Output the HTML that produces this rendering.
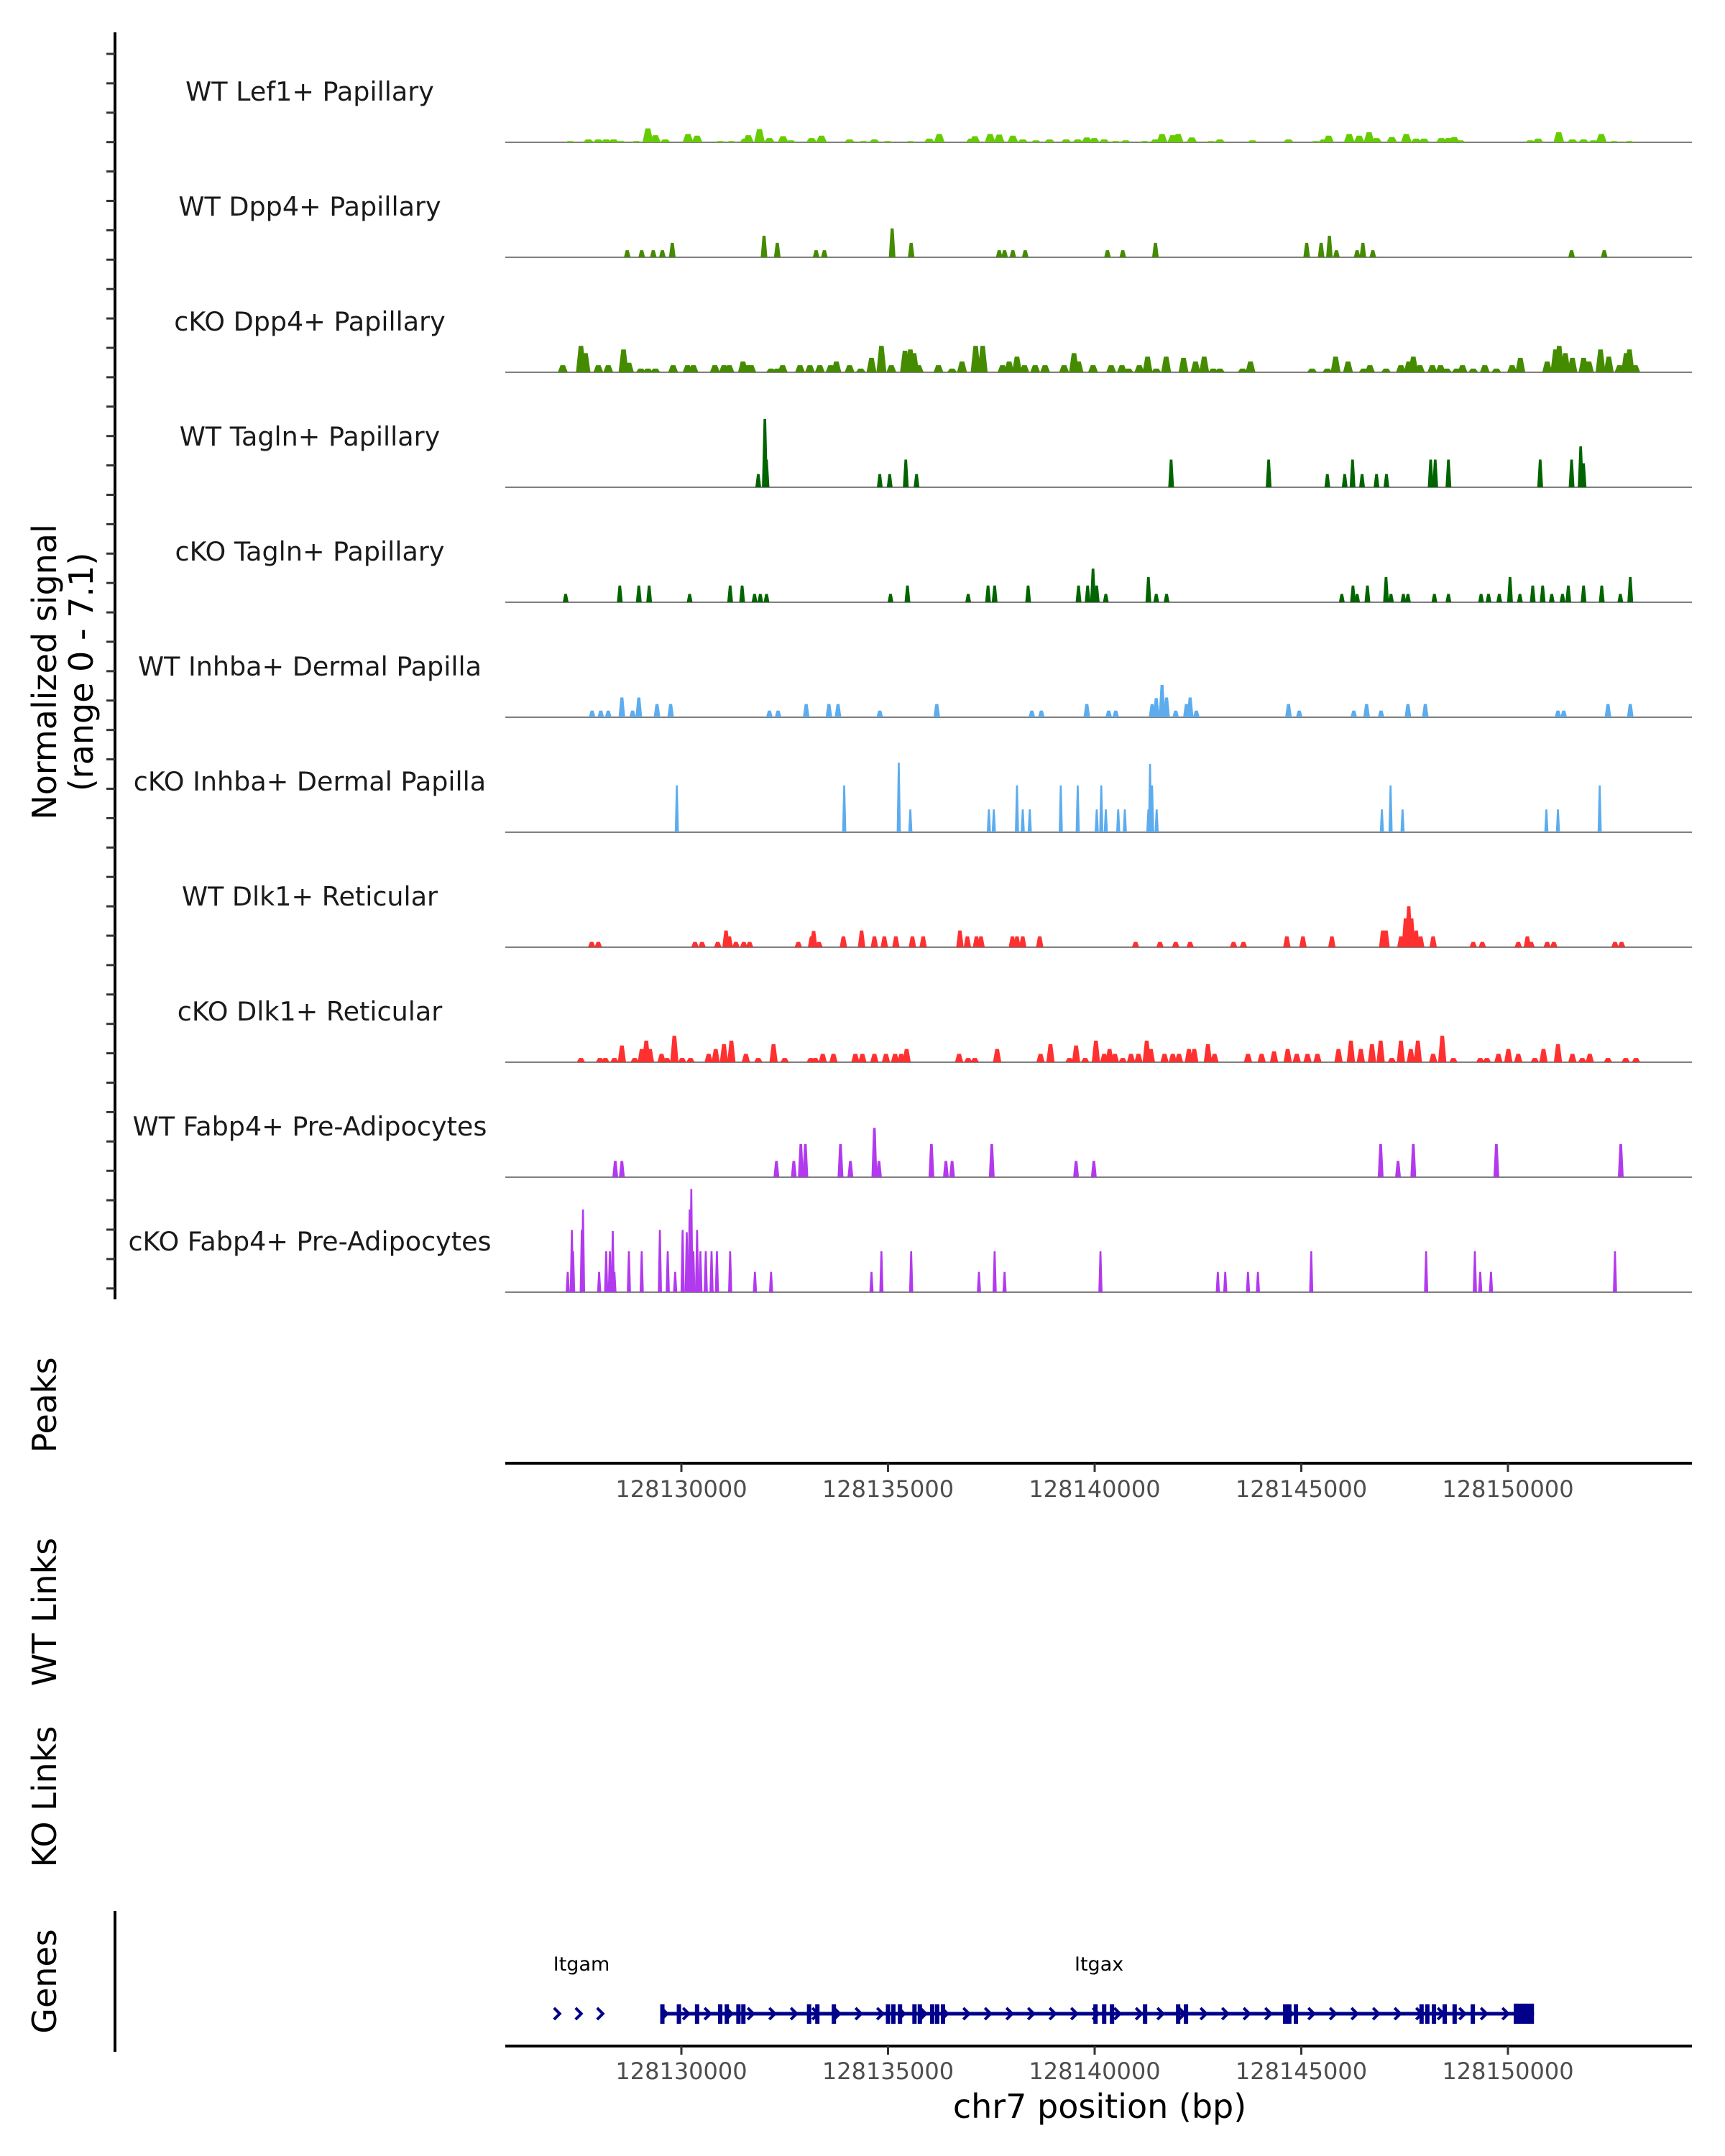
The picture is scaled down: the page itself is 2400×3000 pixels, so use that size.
<!DOCTYPE html>
<html><head><meta charset="utf-8"><style>
html,body{margin:0;padding:0;background:#fff;}
svg{display:block;font-family:"DejaVu Sans","Liberation Sans",sans-serif;}
</style></head><body>
<svg id="chart" width="2400" height="3000" viewBox="0 0 2400 3000" xmlns="http://www.w3.org/2000/svg">
<rect width="2400" height="3000" fill="#fff"/>
<g id="left">
<line x1="160" y1="45" x2="160" y2="1808" stroke="#000" stroke-width="4"/>
<line x1="160" y1="2659" x2="160" y2="2855" stroke="#000" stroke-width="4"/>
<text transform="translate(78,935) rotate(-90)" text-anchor="middle" font-size="46" fill="#000">Normalized signal</text>
<text transform="translate(129,935) rotate(-90)" text-anchor="middle" font-size="46" fill="#000">(range 0 - 7.1)</text>
<text transform="translate(78,1955) rotate(-90)" text-anchor="middle" font-size="46" fill="#000">Peaks</text>
<text transform="translate(78,2243) rotate(-90)" text-anchor="middle" font-size="46" fill="#000">WT Links</text>
<text transform="translate(78,2500) rotate(-90)" text-anchor="middle" font-size="46" fill="#000">KO Links</text>
<text transform="translate(78,2757) rotate(-90)" text-anchor="middle" font-size="46" fill="#000">Genes</text>
</g>
<g id="tracks"></g>
<g id="axes"></g>
<g id="genes"></g>
</svg>
<script>
// Genomic positions in kb offset from 128000 kb; signal in normalized units
const trackNames = ["WT Lef1+ Papillary","WT Dpp4+ Papillary","cKO Dpp4+ Papillary","WT Tagln+ Papillary","cKO Tagln+ Papillary","WT Inhba+ Dermal Papilla","cKO Inhba+ Dermal Papilla","WT Dlk1+ Reticular","cKO Dlk1+ Reticular","WT Fabp4+ Pre-Adipocytes","cKO Fabp4+ Pre-Adipocytes"];
const trackColors = ["#66cc00","#458b00","#458b00","#006400","#006400","#5cacee","#5cacee","#ff3030","#ff3030","#b23aee","#b23aee"];
const xTicks = [128130000,128135000,128140000,128145000,128150000];
const wtLef1 = [[127.31,0.08],[127.75,0.19],[127.99,0.19],[128.18,0.19],[128.36,0.19],[128.54,0.08],[128.91,0.08],[129.19,0.92],[129.37,0.47],[129.61,0.19],[130.16,0.55],[130.38,0.44],[130.94,0.08],[131.21,0.08],[131.54,0.24],[131.62,0.47],[131.89,0.87],[132.13,0.28],[132.46,0.4],[132.65,0.13],[133.15,0.28],[133.39,0.44],[134.07,0.19],[134.40,0.08],[134.67,0.19],[134.99,0.08],[135.54,0.08],[136.0,0.24],[136.24,0.55],[137.01,0.24],[137.10,0.4],[137.47,0.55],[137.69,0.51],[138.02,0.44],[138.26,0.19],[138.58,0.13],[138.91,0.19],[139.31,0.19],[139.59,0.19],[139.81,0.32],[139.99,0.28],[140.23,0.19],[140.51,0.08],[140.75,0.13],[141.21,0.08],[141.47,0.19],[141.63,0.55],[141.89,0.47],[142.02,0.55],[142.35,0.32],[142.81,0.08],[143.03,0.19],[143.82,0.13],[144.69,0.19],[145.35,0.08],[145.54,0.19],[145.66,0.44],[146.16,0.55],[146.40,0.44],[146.64,0.66],[146.82,0.28],[147.19,0.35],[147.54,0.55],[147.78,0.24],[147.97,0.24],[148.39,0.28],[148.56,0.28],[148.70,0.35],[148.85,0.13],[150.54,0.13],[150.73,0.24],[151.23,0.66],[151.56,0.19],[151.83,0.19],[152.07,0.13],[152.26,0.55],[152.57,0.08],[152.94,0.08]];
const wtDpp4 = [[128.69,0.47],[129.04,0.47],[129.32,0.47],[129.54,0.47],[129.78,0.95],[132.0,1.42],[132.32,0.95],[133.26,0.47],[133.46,0.47],[135.1,1.9],[135.56,0.95],[137.69,0.47],[137.82,0.47],[138.02,0.47],[138.32,0.47],[140.31,0.47],[140.68,0.47],[141.47,0.95],[145.13,0.95],[145.48,0.95],[145.68,1.42],[145.85,0.47],[146.35,0.47],[146.49,0.95],[146.73,0.47],[151.54,0.47],[152.33,0.47]];
const koDpp4 = [[127.13,0.47],[127.57,1.74],[127.68,1.26],[127.99,0.47],[128.23,0.47],[128.6,1.5],[128.73,0.63],[129.02,0.24],[129.19,0.24],[129.37,0.24],[129.8,0.47],[130.15,0.47],[130.29,0.47],[130.81,0.47],[131.03,0.47],[131.16,0.47],[131.49,0.71],[131.62,0.47],[131.69,0.47],[132.17,0.24],[132.32,0.24],[132.45,0.47],[132.87,0.47],[133.11,0.47],[133.35,0.47],[133.61,0.47],[133.75,0.71],[134.07,0.47],[134.34,0.24],[134.6,0.95],[134.84,1.74],[135.08,0.47],[135.41,1.42],[135.54,1.5],[135.63,1.26],[135.74,0.47],[136.22,0.47],[136.55,0.24],[136.79,0.71],[137.12,1.74],[137.29,1.74],[137.77,0.47],[137.93,0.71],[138.12,1.03],[138.3,0.47],[138.56,0.47],[138.8,0.47],[139.26,0.47],[139.5,1.26],[139.61,0.71],[139.96,0.47],[140.4,0.47],[140.66,0.47],[140.82,0.24],[141.08,0.47],[141.28,1.03],[141.49,0.24],[141.73,1.03],[142.15,0.95],[142.44,0.71],[142.65,1.03],[142.87,0.24],[143.03,0.24],[143.58,0.24],[143.77,0.71],[145.26,0.24],[145.63,0.24],[145.83,1.03],[146.13,0.71],[146.51,0.24],[146.66,0.47],[147.05,0.24],[147.41,0.47],[147.6,0.71],[147.71,1.03],[147.87,0.47],[148.17,0.47],[148.37,0.47],[148.52,0.24],[148.76,0.24],[148.9,0.47],[149.16,0.24],[149.44,0.47],[149.72,0.24],[150.1,0.47],[150.3,0.95],[150.95,0.71],[151.15,1.5],[151.24,1.74],[151.39,1.26],[151.56,0.95],[151.83,0.95],[151.96,0.71],[152.24,1.5],[152.44,1.03],[152.7,0.47],[152.86,1.26],[152.94,1.5],[153.08,0.47]];
const wtTagln = [[131.86,0.87],[132.02,4.5],[132.06,1.82],[134.8,0.87],[135.04,0.87],[135.43,1.82],[135.69,0.87],[141.85,1.82],[144.21,1.82],[145.63,0.87],[146.05,0.87],[146.24,1.82],[146.47,0.87],[146.82,0.87],[147.06,0.87],[148.13,1.82],[148.24,1.82],[148.56,1.82],[150.78,1.82],[151.54,1.82],[151.76,2.69],[151.83,1.58]];
const koTagln = [[127.2,0.55],[128.51,1.1],[128.97,1.1],[129.22,1.1],[130.2,0.55],[131.18,1.1],[131.47,1.1],[131.77,0.55],[131.91,0.55],[132.06,0.55],[135.06,0.55],[135.47,1.1],[136.94,0.55],[137.42,1.1],[137.58,1.1],[138.39,1.1],[139.61,1.1],[139.83,1.1],[139.96,2.21],[140.05,1.1],[140.27,0.55],[141.3,1.66],[141.49,0.55],[141.74,0.55],[145.98,0.55],[146.25,1.1],[146.35,0.55],[146.6,1.1],[147.05,1.66],[147.17,0.55],[147.47,0.55],[147.58,0.55],[148.22,0.55],[148.56,0.55],[149.35,0.55],[149.53,0.55],[149.79,0.55],[150.05,1.66],[150.29,0.55],[150.6,1.1],[150.84,1.1],[151.06,0.55],[151.32,0.55],[151.46,1.1],[151.83,1.1],[152.27,1.1],[152.72,0.55],[152.96,1.66]];
const wtInhba = [[127.84,0.44],[128.05,0.44],[128.23,0.44],[128.56,1.3],[128.82,0.44],[128.97,1.3],[129.41,0.87],[129.74,0.87],[132.13,0.44],[132.34,0.44],[133.02,0.87],[133.57,0.87],[133.79,0.87],[134.8,0.44],[136.18,0.87],[138.48,0.44],[138.71,0.44],[139.81,0.87],[140.34,0.44],[140.51,0.44],[141.39,0.87],[141.49,1.26],[141.63,2.13],[141.74,1.3],[141.96,0.44],[142.22,0.87],[142.31,1.3],[142.46,0.44],[144.69,0.87],[144.95,0.44],[146.27,0.44],[146.58,0.87],[146.93,0.44],[147.58,0.87],[148.0,0.87],[151.21,0.44],[151.35,0.44],[152.42,0.87],[152.96,0.87]];
const koInhba = [[129.89,3.08],[133.94,3.08],[135.26,4.58],[135.54,1.5],[137.44,1.5],[137.56,1.5],[138.12,3.08],[138.26,1.5],[138.43,1.5],[139.18,3.08],[139.59,3.08],[140.05,1.5],[140.16,3.08],[140.27,1.5],[140.57,1.5],[140.73,1.5],[141.3,1.5],[141.34,4.5],[141.39,3.08],[141.5,1.5],[146.95,1.5],[147.16,3.08],[147.45,1.5],[150.93,1.5],[151.21,1.5],[152.22,3.08]];
const wtDlk1 = [[127.83,0.35],[127.99,0.35],[130.33,0.35],[130.5,0.35],[130.88,0.35],[131.08,1.1],[131.16,0.71],[131.32,0.35],[131.51,0.35],[131.65,0.35],[132.83,0.35],[133.15,0.71],[133.2,1.07],[133.33,0.35],[133.92,0.71],[134.36,1.1],[134.67,0.71],[134.91,0.71],[135.19,0.71],[135.59,0.71],[135.85,0.71],[136.74,1.1],[136.92,0.71],[137.14,0.71],[137.25,0.71],[138.01,0.71],[138.12,0.71],[138.26,0.71],[138.67,0.71],[140.99,0.35],[141.58,0.35],[141.96,0.35],[142.31,0.35],[143.36,0.35],[143.6,0.35],[144.65,0.71],[145.04,0.71],[145.74,0.71],[146.97,1.1],[147.05,1.1],[147.41,0.71],[147.52,1.9],[147.6,2.69],[147.67,1.9],[147.78,1.1],[147.89,0.71],[148.19,0.71],[149.16,0.35],[149.38,0.35],[150.25,0.35],[150.47,0.71],[150.56,0.35],[150.95,0.35],[151.11,0.35],[152.59,0.35],[152.75,0.35]];
const koDlk1 = [[127.57,0.28],[128.03,0.28],[128.16,0.28],[128.38,0.28],[128.56,1.1],[128.87,0.28],[129.04,0.87],[129.15,1.42],[129.24,0.87],[129.52,0.55],[129.65,0.28],[129.83,1.74],[130.02,0.28],[130.22,0.28],[130.66,0.55],[130.83,0.87],[131.03,1.19],[131.21,1.42],[131.56,0.55],[131.86,0.28],[132.23,1.19],[132.5,0.28],[133.13,0.28],[133.24,0.28],[133.42,0.55],[133.68,0.55],[134.21,0.55],[134.38,0.55],[134.67,0.55],[134.95,0.55],[135.17,0.55],[135.32,0.55],[135.45,0.87],[136.72,0.55],[136.94,0.28],[137.1,0.28],[137.64,0.87],[138.69,0.55],[138.93,1.19],[139.39,0.28],[139.55,1.1],[139.77,0.28],[140.03,1.42],[140.23,0.55],[140.36,0.87],[140.49,0.55],[140.68,0.28],[140.88,0.55],[141.06,0.55],[141.26,1.42],[141.36,0.87],[141.69,0.55],[141.89,0.55],[142.04,0.55],[142.28,0.87],[142.41,0.87],[142.74,1.19],[142.9,0.55],[143.71,0.55],[144.04,0.55],[144.34,0.71],[144.67,0.87],[144.89,0.55],[145.15,0.55],[145.39,0.55],[145.9,0.87],[146.2,1.42],[146.44,0.87],[146.71,1.19],[146.92,1.42],[147.19,0.28],[147.41,1.42],[147.65,0.87],[147.82,1.42],[148.19,0.55],[148.41,1.74],[148.68,0.28],[149.33,0.28],[149.49,0.28],[149.77,0.55],[150.01,0.87],[150.25,0.55],[150.65,0.28],[150.86,0.87],[151.21,1.19],[151.56,0.55],[151.8,0.28],[151.98,0.55],[152.42,0.28],[152.85,0.28],[153.1,0.28]];
const wtFabp4 = [[128.4,1.07],[128.56,1.07],[132.3,1.07],[132.72,1.07],[132.89,2.18],[133.0,2.18],[133.85,2.18],[134.09,1.07],[134.67,3.24],[134.78,1.07],[136.05,2.18],[136.4,1.07],[136.55,1.07],[137.51,2.18],[139.55,1.07],[139.98,1.07],[146.92,2.18],[147.34,1.07],[147.71,2.18],[149.72,2.18],[152.73,2.18]];
const koFabp4 = [[127.25,1.34],[127.35,4.1],[127.38,2.69],[127.59,4.1],[127.62,5.45],[128.01,1.34],[128.18,2.69],[128.27,2.69],[128.34,4.03],[128.38,1.34],[128.73,2.69],[129.04,2.69],[129.48,4.1],[129.67,2.69],[129.85,1.34],[130.03,4.1],[130.13,3.95],[130.2,5.45],[130.24,6.8],[130.29,2.69],[130.38,4.1],[130.46,2.69],[130.59,2.69],[130.73,2.69],[130.86,2.69],[131.18,2.69],[131.78,1.34],[132.17,1.34],[134.6,1.34],[134.84,2.69],[135.56,2.69],[137.2,1.34],[137.58,2.69],[137.82,1.34],[140.14,2.69],[142.98,1.34],[143.16,1.34],[143.71,1.34],[143.95,1.34],[145.24,2.69],[148.02,2.69],[149.2,2.69],[149.33,1.34],[149.59,1.34],[152.59,2.69]];
const trackData = [wtLef1,wtDpp4,koDpp4,wtTagln,koTagln,wtInhba,koInhba,wtDlk1,koDlk1,wtFabp4,koFabp4];
// gene model (kb offset from 128000)
const itgamRange = [126.9,128.18];
const itgaxRange = [129.5,150.63];
const itgaxExons = [129.54,129.94,130.38,130.94,131.1,131.38,131.5,133.09,133.29,133.69,135.0,135.13,135.29,135.64,135.77,136.07,136.19,136.33,140.02,140.23,140.42,141.22,142.02,142.21,144.61,144.71,144.87,147.91,148.05,148.21,148.47,148.71,149.15];
const itgaxLastExon = [150.14,150.63];

const NS="http://www.w3.org/2000/svg";
const X0=703, X1=2354, KB0=125.739, PXKB=57.5;
function xs(kb){return X0+(kb-KB0)*PXKB;}
function xbp(bp){return xs(bp/1000-128000);}
const YSCALE=150/7.1;
function ys(base,v){return base-v*YSCALE;}
function mk(tag,attrs,parent){const e=document.createElementNS(NS,tag);for(const k in attrs)e.setAttribute(k,attrs[k]);parent.appendChild(e);return e;}
const left=document.getElementById('left');
for(let y=75;y<1805;y+=40.9){
  const t=mk('line',{x1:148,y1:y,x2:160,y2:y,stroke:'#333',"stroke-width":3},left);
  
  
}
const tracks=document.getElementById('tracks');
const halfW=[0.13,0.08,0.12,0.07,0.07,0.08,0.05,0.09,0.1,0.07,0.05];
trackData.forEach((data,i)=>{
  const base=198+160*i;
  const g=mk('g',{},tracks);
  
  
  const lab=mk('text',{x:431,y:base-71+13,"text-anchor":"middle","font-size":36.5,fill:'#1a1a1a'},g);
  lab.textContent=trackNames[i];
  
  
  const bl=mk('line',{x1:X0,y1:base,x2:X1,y2:base,stroke:'#7f7f7f',"stroke-width":2},g);
  
  
  data.forEach(d=>{
    const c=xs(d[0]),w=halfW[i]*PXKB,top=ys(base,d[1]);
    const p=mk('polygon',{points:`${c-w},${base} ${c-w*0.45},${top} ${c+w*0.45},${top} ${c+w},${base}`,fill:trackColors[i]},g);
    
    
  });
});
const axes=document.getElementById('axes');
[[2036,2072,'peaks'],[2847,2882,'genes']].forEach(a=>{
  const l=mk('line',{x1:X0,y1:a[0],x2:X1,y2:a[0],stroke:'#000',"stroke-width":4},axes);
  
  
  xTicks.forEach(t=>{
    const x=xbp(t);
    const tk=mk('line',{x1:x,y1:a[0],x2:x,y2:a[0]+12,stroke:'#333',"stroke-width":3},axes);
    
    
    const tx=mk('text',{x:x,y:a[1]+11,"text-anchor":"middle","font-size":32,fill:'#4d4d4d'},axes);
    tx.textContent=t;
    
    
  });
});
const xt=mk('text',{x:1530,y:2947,"text-anchor":"middle","font-size":46,fill:'#000'},axes);
xt.textContent='chr7 position (bp)';



const genes=document.getElementById('genes');
const GY=2802, GC='#00008b';
function chevrons(a,b){
  for(let x=xs(a)+6;x<xs(b)+2;x+=30){
    const c=mk('polyline',{points:`${x-5},${GY-8} ${x+3},${GY} ${x-5},${GY+8}`,fill:'none',stroke:GC,"stroke-width":4},genes);
    
    
  }
}
chevrons(itgamRange[0],itgamRange[1]);
const gl=mk('line',{x1:xs(itgaxRange[0]),y1:GY,x2:xs(itgaxRange[1]),y2:GY,stroke:GC,"stroke-width":5},genes);


chevrons(itgaxRange[0],itgaxLastExon[0]-0.1);
itgaxExons.forEach(e=>{
  const r=mk('rect',{x:xs(e)-3,y:GY-13,width:6,height:27,fill:GC},genes);
  
  
});
const le=mk('rect',{x:xs(itgaxLastExon[0]),y:GY-14,width:xs(itgaxLastExon[1])-xs(itgaxLastExon[0]),height:28,fill:GC},genes);


const g1=mk('text',{x:xs(itgamRange[0]),y:2742,"font-size":27,fill:'#000'},genes);
g1.textContent='Itgam';


const g2=mk('text',{x:1495,y:2742,"font-size":27,fill:'#000'},genes);
g2.textContent='Itgax';


</script>
</body></html>
